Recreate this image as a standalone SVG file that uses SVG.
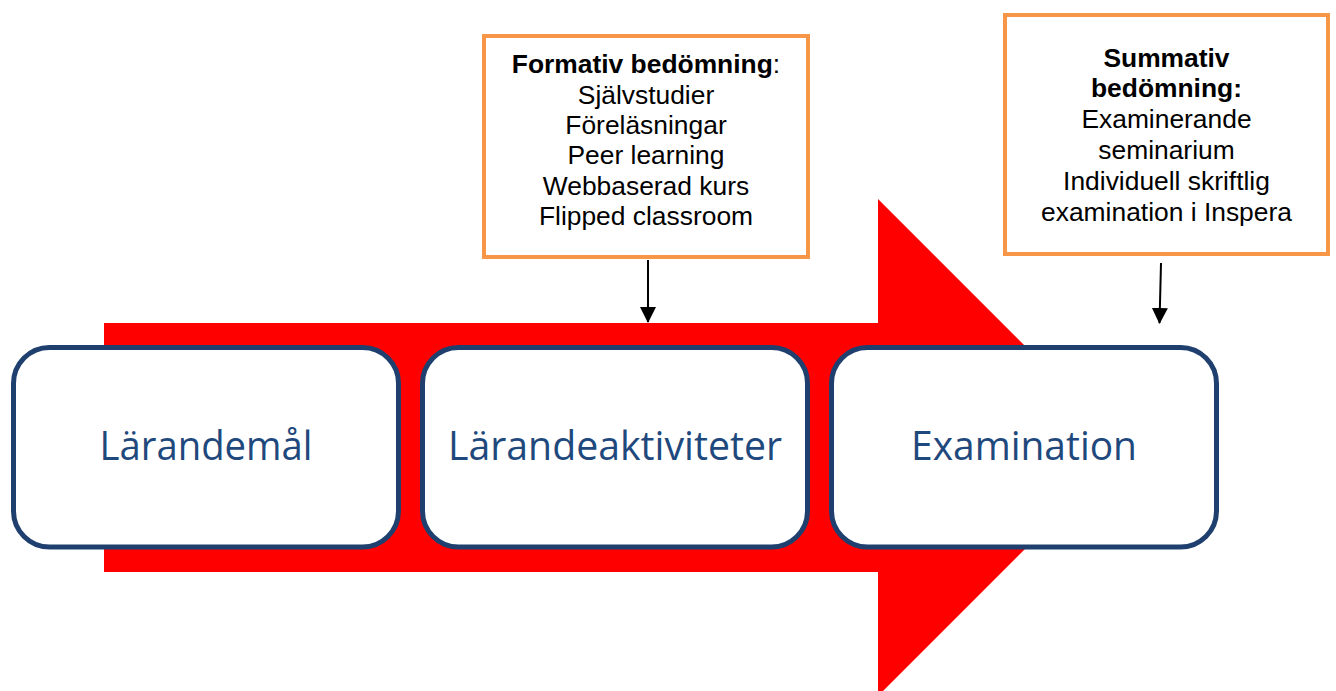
<svg xmlns="http://www.w3.org/2000/svg" width="1336" height="691" viewBox="0 0 1336 691">
<style>
.stage{fill:#ffffff;stroke:#1f406e;stroke-width:5}
.stext{font-family:"Open Sans","Noto Sans",sans-serif;font-size:40px;fill:#1f497d;text-anchor:middle}
.note{fill:#ffffff;stroke:#f79646;stroke-width:4}
.ntext{font-family:"Liberation Sans",Arial,sans-serif;font-size:26.4px;fill:#000000;text-anchor:middle}
.b{font-weight:bold}
.conn{stroke:#000000;stroke-width:2;fill:none}
</style>
<defs>
<marker id="ah" markerWidth="8" markerHeight="8" refX="7.5" refY="4" orient="auto" markerUnits="strokeWidth">
<path d="M0,0 L8,4 L0,8 Z" fill="#000000"/>
</marker>
</defs>
<rect width="1336" height="691" fill="#ffffff"/>
<g id="big-arrow">
<polygon points="104,323 878,323 878,199 1126.5,447.5 878,696 878,572 104,572" fill="#ff0000"/>
</g>
<g id="node-larandemal">
<rect class="stage" x="13.5" y="347.5" width="385" height="199.5" rx="36"/>
<text class="stext" x="206" y="460" textLength="213" lengthAdjust="spacingAndGlyphs">Lärandemål</text>
</g>
<g id="node-larandeaktiviteter">
<rect class="stage" x="422.5" y="347.5" width="385" height="199.5" rx="36"/>
<text class="stext" x="615" y="460" textLength="334" lengthAdjust="spacingAndGlyphs">Lärandeaktiviteter</text>
</g>
<g id="node-examination">
<rect class="stage" x="831.5" y="347.5" width="385" height="199.5" rx="36"/>
<text class="stext" x="1024" y="460" textLength="226" lengthAdjust="spacingAndGlyphs">Examination</text>
</g>
<g id="node-formativ">
<rect class="note" x="484" y="36" width="324" height="221"/>
<text class="ntext" x="646" y="73"><tspan class="b">Formativ bedömning</tspan>:</text>
<text class="ntext" x="646" y="104">Självstudier</text>
<text class="ntext" x="646" y="134">Föreläsningar</text>
<text class="ntext" x="646" y="164">Peer learning</text>
<text class="ntext" x="646" y="195">Webbaserad kurs</text>
<text class="ntext" x="646" y="225">Flipped classroom</text>
</g>
<g id="node-summativ">
<rect class="note" x="1005" y="15" width="323" height="239"/>
<text class="ntext b" x="1166.5" y="67">Summativ</text>
<text class="ntext b" x="1166.5" y="97">bedömning:</text>
<text class="ntext" x="1166.5" y="128">Examinerande</text>
<text class="ntext" x="1166.5" y="159">seminarium</text>
<text class="ntext" x="1166.5" y="190">Individuell skriftlig</text>
<text class="ntext" x="1166.5" y="221">examination i Inspera</text>
</g>
<g id="connectors">
<line class="conn" x1="648" y1="260" x2="648" y2="322" marker-end="url(#ah)"/>
<line class="conn" x1="1161" y1="263" x2="1159.5" y2="323" marker-end="url(#ah)"/>
</g>
</svg>
